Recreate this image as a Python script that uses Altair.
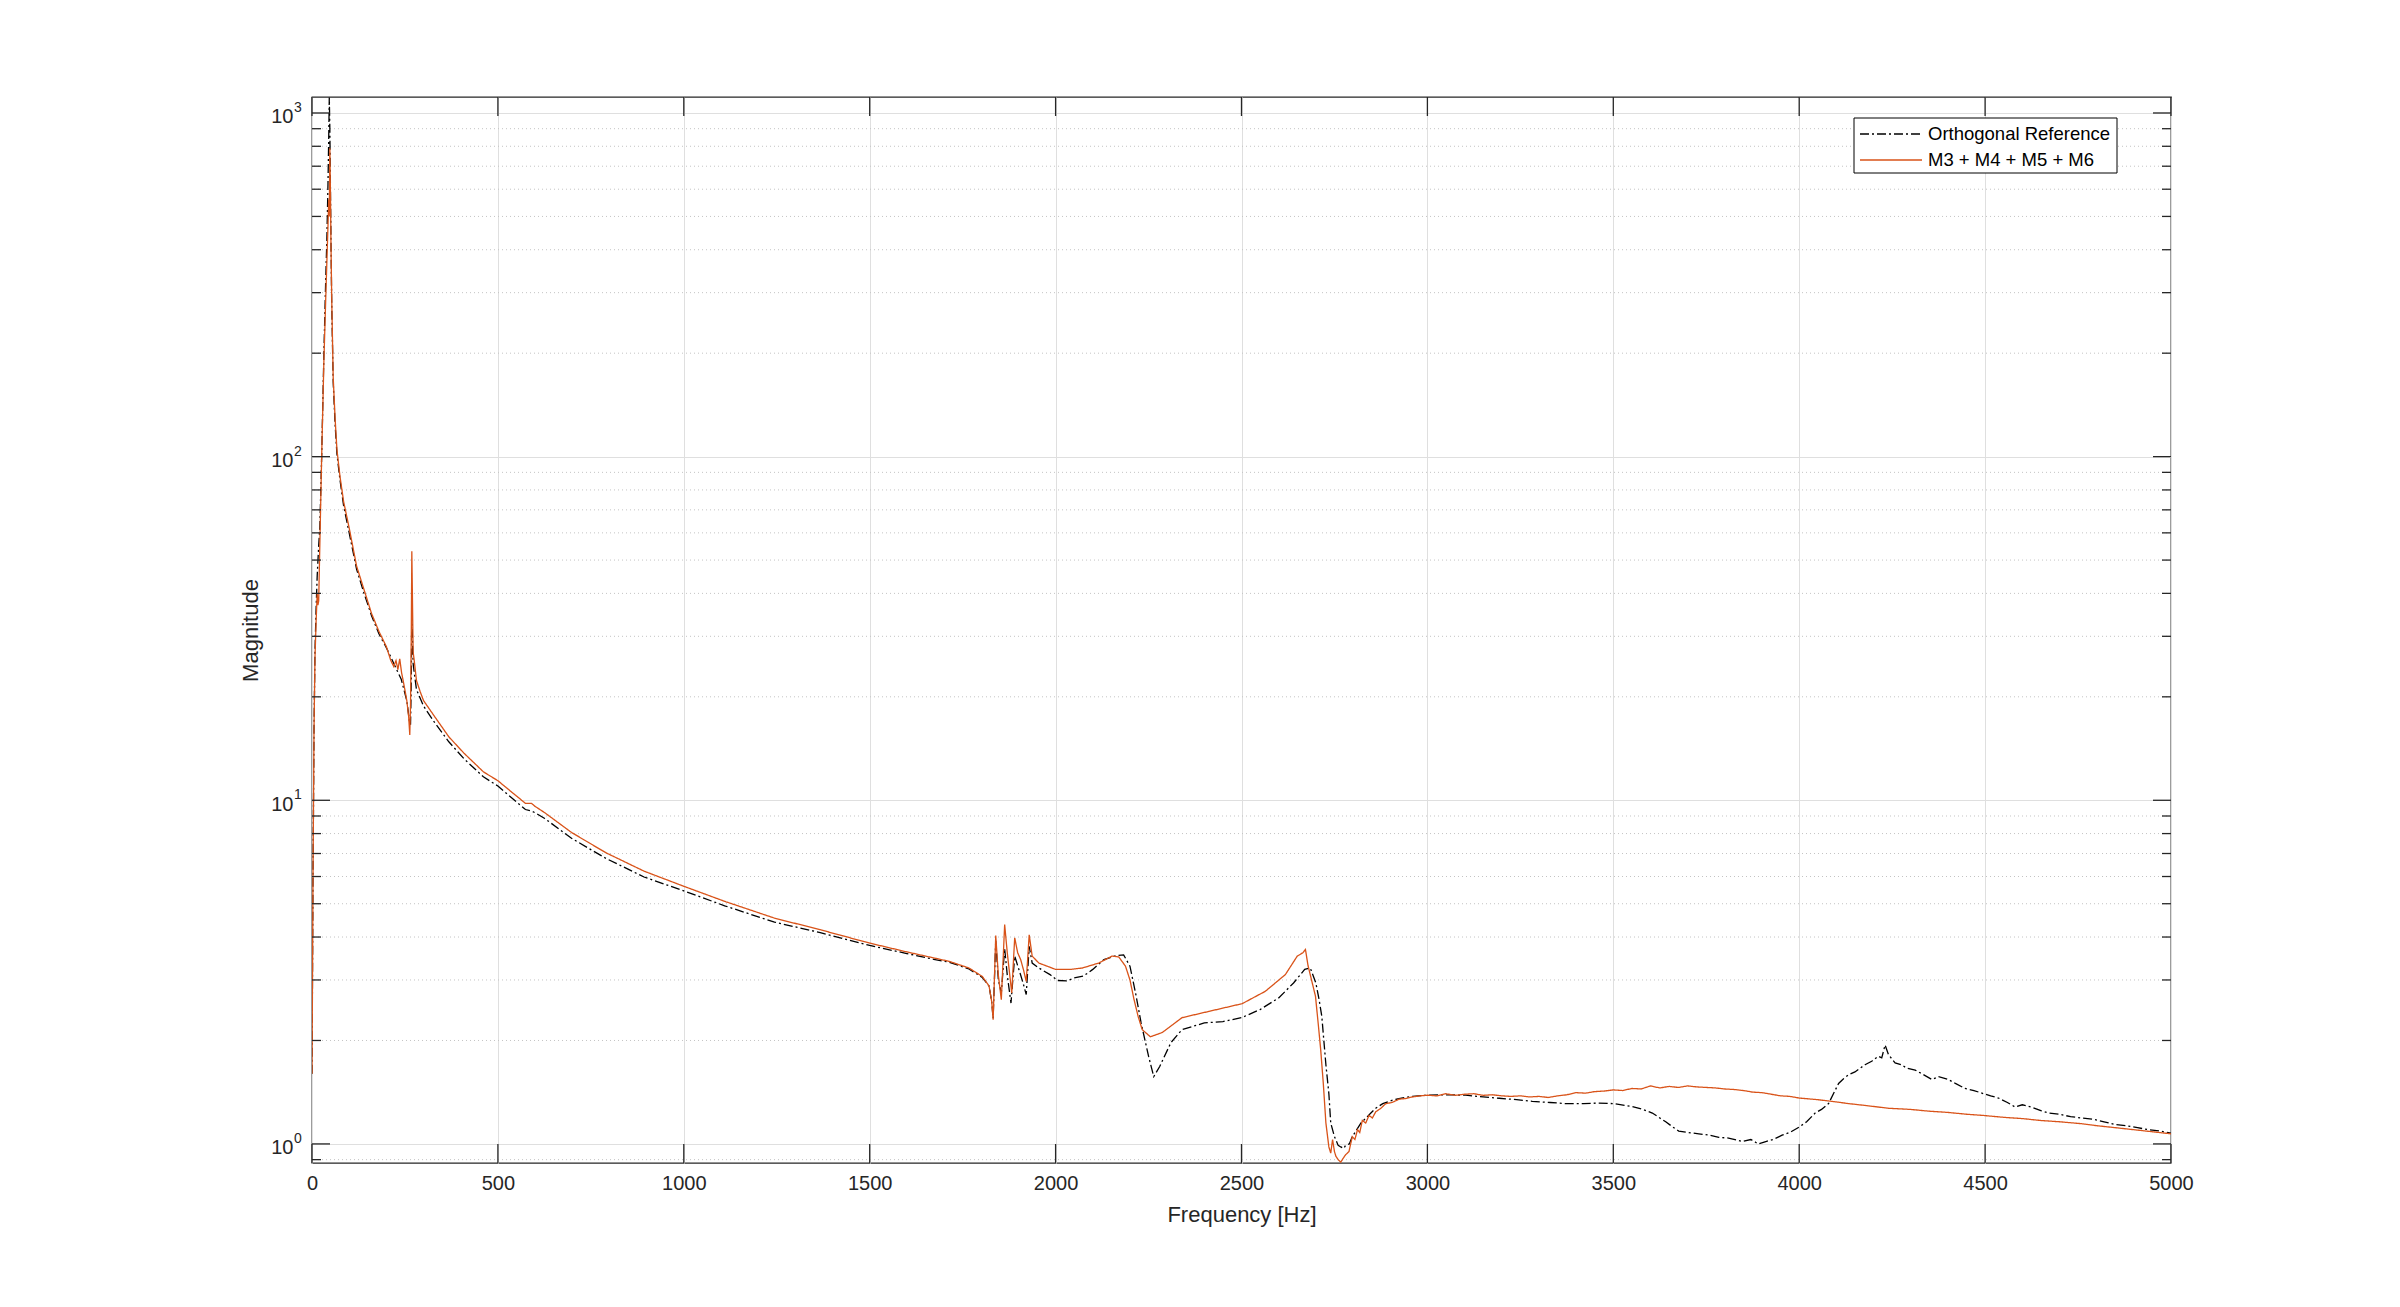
import altair as alt
import pandas as pd

# ---------------- data ----------------
ref_name = "Orthogonal Reference"
m_name = "M3 + M4 + M5 + M6"

ref_f = [0, 2.7, 5.4, 8, 11, 14, 18, 21, 26, 32, 37, 40, 43, 45, 46.5, 48, 49.5, 51, 53, 57, 62, 67, 75, 85,
         100, 120, 140, 160, 180, 200, 220, 240, 255, 262, 265, 267, 268.5, 270, 272, 275, 281, 291, 300, 327,
         368, 409, 461, 500, 540, 574, 590, 600, 626, 698, 790, 893, 1000, 1110, 1244, 1367, 1500, 1600, 1676,
         1713, 1767, 1803, 1821, 1828, 1832, 1839, 1846, 1854, 1863, 1870, 1880, 1890, 1898, 1906, 1914, 1921,
         1929, 1937, 1955, 1985, 2005, 2030, 2050, 2075, 2100, 2130, 2163, 2183, 2200, 2215, 2230, 2250, 2264,
         2280, 2310, 2340, 2400, 2450, 2500, 2550, 2600, 2640, 2670, 2685, 2700, 2709, 2716, 2727, 2735, 2740,
         2750, 2760, 2767, 2775, 2780, 2790, 2798, 2810, 2821, 2835, 2848, 2861, 2880, 2906, 2930, 2960, 3000,
         3050, 3103, 3150, 3193, 3240, 3282, 3330, 3372, 3420, 3460, 3500, 3551, 3580, 3605, 3625, 3641, 3660,
         3676, 3700, 3730, 3760, 3784, 3810, 3847, 3870, 3890, 3910, 3930, 3954, 3975, 4000, 4020, 4043, 4060,
         4079, 4095, 4106, 4120, 4133, 4150, 4177, 4195, 4213, 4222, 4231, 4240, 4258, 4275, 4290, 4312, 4330,
         4357, 4375, 4401, 4420, 4446, 4470, 4496, 4515, 4536, 4560, 4581, 4600, 4625, 4650, 4670, 4700, 4730,
         4760, 4790, 4820, 4849, 4880, 4910, 4940, 4970, 5000]
ref_v = [1.6, 6, 16, 27, 36, 45, 55, 62, 100, 200, 330, 430, 620, 850, 1110, 900, 620, 430, 280, 165, 125, 102,
         86, 72, 60, 47, 40, 34.5, 30.5, 27.8, 25, 22.5, 19.5, 17, 16.6, 22, 36, 30, 25, 23.5, 21, 19.8, 18.8, 17,
         14.8, 13.2, 11.7, 11.0, 10.1, 9.4, 9.3, 9.2, 8.85, 7.75, 6.78, 5.98, 5.45, 4.93, 4.42, 4.12, 3.78, 3.58,
         3.44, 3.38, 3.23, 3.05, 2.88, 2.6, 2.32, 3.9, 3.0, 2.75, 3.7, 3.1, 2.57, 3.52, 3.3, 3.1, 2.9, 2.72, 3.76,
         3.36, 3.25, 3.11, 2.99, 2.98, 3.04, 3.08, 3.22, 3.44, 3.53, 3.55, 3.29, 2.75, 2.25, 1.80, 1.57, 1.68,
         1.97, 2.15, 2.25, 2.27, 2.33, 2.46, 2.66, 2.94, 3.22, 3.25, 2.94, 2.62, 2.35, 1.7, 1.4, 1.15, 1.05, 0.99,
         0.98, 0.97, 0.99, 1.0, 1.05, 1.1, 1.15, 1.19, 1.23, 1.27, 1.31, 1.34, 1.36, 1.375, 1.386, 1.39, 1.386,
         1.37, 1.358, 1.345, 1.33, 1.32, 1.31, 1.31, 1.315, 1.31, 1.285, 1.26, 1.23, 1.19, 1.16, 1.12, 1.09, 1.08,
         1.07, 1.06, 1.045, 1.04, 1.016, 1.03, 1.0, 1.016, 1.03, 1.06, 1.08, 1.12, 1.16, 1.23, 1.26, 1.31, 1.42,
         1.50, 1.55, 1.59, 1.62, 1.70, 1.74, 1.80, 1.78, 1.94, 1.82, 1.72, 1.70, 1.66, 1.64, 1.60, 1.54, 1.57,
         1.54, 1.50, 1.45, 1.43, 1.40, 1.38, 1.36, 1.32, 1.28, 1.30, 1.28, 1.25, 1.23, 1.22, 1.20, 1.19, 1.18,
         1.16, 1.14, 1.13, 1.115, 1.10, 1.09, 1.075]

m_f = [0, 2.7, 5.4, 8, 11, 14, 16, 18, 21, 26, 32, 37, 40, 43, 45, 46.5, 48, 49.5, 51, 53, 57, 62, 67, 75, 85,
       100, 120, 140, 160, 180, 200, 212, 220, 226, 231, 236, 241, 248, 255, 260, 263, 265, 267, 268.5, 270, 272,
       275, 281, 291, 300, 327, 368, 409, 461, 500, 540, 574, 590, 600, 626, 698, 790, 893, 1000, 1110, 1244,
       1367, 1500, 1600, 1676, 1713, 1767, 1803, 1821, 1828, 1832, 1839, 1846, 1854, 1863, 1870, 1875, 1882,
       1890, 1898, 1906, 1914, 1921, 1929, 1937, 1955, 2000, 2040, 2072, 2116, 2152, 2170, 2188, 2200, 2211,
       2222, 2233, 2255, 2287, 2340, 2412, 2502, 2564, 2618, 2650, 2665, 2672, 2679, 2690, 2699, 2707, 2713,
       2720, 2727, 2735, 2740, 2745, 2750, 2754, 2760, 2767, 2774, 2780, 2789, 2798, 2805, 2812, 2818, 2825,
       2834, 2843, 2852, 2861, 2875, 2888, 2905, 2924, 2940, 2960, 2980, 3000, 3025, 3050, 3075, 3100, 3125,
       3150, 3175, 3200, 3225, 3250, 3275, 3300, 3325, 3350, 3375, 3400, 3425, 3450, 3475, 3500, 3525, 3550,
       3575, 3600, 3625, 3650, 3675, 3700, 3725, 3750, 3775, 3800, 3825, 3850, 3875, 3900, 3925, 3950, 3975,
       4000, 4050, 4100, 4133, 4175, 4240, 4300, 4350, 4400, 4450, 4496, 4550, 4600, 4650, 4700, 4760, 4800,
       4850, 4900, 4950, 5000]
m_v = [1.6, 6, 16, 26, 33, 40, 37, 38, 55, 100, 190, 290, 370, 470, 560, 500, 790, 600, 420, 290, 170, 130, 105,
       88, 74, 62, 48, 41, 35, 31, 28, 25.5, 24.5, 25.5, 24, 25.8, 23.5, 21.5, 19.5, 17.5, 15.5, 19, 30, 53, 40,
       27, 25.5, 22.3, 20.7, 19.5, 17.7, 15.3, 13.7, 12.1, 11.4, 10.5, 9.8, 9.8, 9.6, 9.2, 8.06, 7.04, 6.22, 5.62,
       5.08, 4.54, 4.2, 3.84, 3.62, 3.47, 3.40, 3.25, 3.07, 2.88, 2.6, 2.30, 4.04, 3.1, 2.63, 4.35, 3.6, 3.22,
       2.75, 3.98, 3.6, 3.44, 3.2, 2.97, 4.06, 3.52, 3.36, 3.22, 3.22, 3.25, 3.36, 3.52, 3.50, 3.29, 3.0, 2.63,
       2.35, 2.15, 2.05, 2.11, 2.33, 2.43, 2.56, 2.78, 3.11, 3.52, 3.6, 3.68, 3.3, 2.95, 2.69, 2.2, 1.88, 1.5,
       1.15, 0.98, 0.94, 1.03, 0.95, 0.92, 0.9, 0.885, 0.91, 0.93, 0.95, 1.05, 1.03, 1.10, 1.08, 1.17, 1.15, 1.21,
       1.19, 1.24, 1.27, 1.31, 1.32, 1.35, 1.355, 1.37, 1.38, 1.386, 1.38, 1.40, 1.385, 1.395, 1.40, 1.385, 1.39,
       1.38, 1.375, 1.38, 1.37, 1.375, 1.365, 1.38, 1.39, 1.41, 1.405, 1.42, 1.425, 1.436, 1.43, 1.45, 1.445,
       1.475, 1.455, 1.47, 1.46, 1.475, 1.465, 1.46, 1.455, 1.445, 1.44, 1.43, 1.415, 1.41, 1.395, 1.38, 1.375,
       1.36, 1.345, 1.325, 1.31, 1.295, 1.27, 1.26, 1.245, 1.235, 1.22, 1.21, 1.195, 1.185, 1.17, 1.16, 1.145,
       1.13, 1.115, 1.1, 1.085, 1.07]

x_ticks = [0, 500, 1000, 1500, 2000, 2500, 3000, 3500, 4000, 4500, 5000]
y_major = [1, 10, 100, 1000]
y_exponents = ["0", "1", "2", "3"]
y_minor = [0.9, 2, 3, 4, 5, 6, 7, 8, 9, 20, 30, 40, 50, 60, 70, 80, 90, 200, 300, 400, 500, 600, 700, 800, 900]

# ---------------- chart ----------------
W, H = 1859, 1066
FONT = "Liberation Sans"
TXT = "#262626"
ORANGE = "#D95319"
XT = "Frequency [Hz]"
YT = "Magnitude"

df = pd.concat([
    pd.DataFrame({"f": ref_f, "value": ref_v, "series": ref_name}),
    pd.DataFrame({"f": m_f, "value": m_v, "series": m_name}),
])

xscale = alt.Scale(domain=[0, 5000], nice=False, zero=False)
yscale = alt.Scale(type="log", domain=[0.88, 1113], nice=False)
cscale = alt.Scale(domain=[ref_name, m_name], range=["#000000", ORANGE])
dscale = alt.Scale(domain=[ref_name, m_name], range=[[9, 3, 2, 3], [1, 0]])

xaxis = alt.Axis(values=x_ticks, grid=True, gridColor="#dfdfdf", gridWidth=1, ticks=False, domain=False,
                 format="d", labelFlush=False, labelFontSize=20, labelFont=FONT, labelColor=TXT, labelPadding=10,
                 titleFontSize=22, titleFont=FONT, titleColor=TXT, titleFontWeight="normal", titlePadding=11)
yaxis = alt.Axis(values=y_major, grid=True, gridColor="#dfdfdf", gridWidth=1, ticks=False, domain=False,
                 labelExpr="'10'", labelFlush=False, labelFontSize=20, labelFont=FONT, labelColor=TXT,
                 labelPadding=19, labelBaseline="middle", labelOffset=4,
                 titleFontSize=22, titleFont=FONT, titleColor=TXT, titleFontWeight="normal", titlePadding=8)

def X(field):
    return alt.X(field, scale=xscale, axis=xaxis, title=XT)

def Y(field):
    return alt.Y(field, scale=yscale, axis=yaxis, title=YT)

minor_df = pd.DataFrame({"v": y_minor})
major_df = pd.DataFrame({"v": y_major, "e": y_exponents})
xt_df = pd.DataFrame({"t": x_ticks})

minor_grid = alt.Chart(minor_df).mark_rule(color="#c4c4c4", strokeWidth=1, strokeDash=[1, 3]).encode(
    y=Y("v:Q"))

base = alt.Chart(df)
ref_line = base.transform_filter(alt.datum.series == ref_name).mark_line(
    strokeWidth=1.3, clip=True, strokeCap="butt").encode(
    x=X("f:Q"), y=Y("value:Q"),
    color=alt.Color("series:N", scale=cscale, legend=None),
    strokeDash=alt.StrokeDash("series:N", scale=dscale, legend=None), order="f:Q")
m_line = base.transform_filter(alt.datum.series == m_name).mark_line(
    strokeWidth=1.3, clip=True, strokeCap="butt").encode(
    x=X("f:Q"), y=Y("value:Q"),
    color=alt.Color("series:N", scale=cscale, legend=None),
    strokeDash=alt.StrokeDash("series:N", scale=dscale, legend=None), order="f:Q")

# exponents of the 10^n tick labels
exps = alt.Chart(major_df).mark_text(
    align="left", baseline="middle", fontSize=14, font=FONT, color=TXT, dy=-5, clip=False).encode(
    y=Y("v:Q"), x=alt.value(-18), text="e:N")

TK = dict(color=TXT, strokeWidth=1.3)
ymaj_l = alt.Chart(major_df).mark_rule(**TK).encode(y=Y("v:Q"), x=alt.value(0), x2=alt.value(18))
ymaj_r = alt.Chart(major_df).mark_rule(**TK).encode(y=Y("v:Q"), x=alt.value(W - 18), x2=alt.value(W))
ymin_l = alt.Chart(minor_df).mark_rule(**TK).encode(y=Y("v:Q"), x=alt.value(0), x2=alt.value(9))
ymin_r = alt.Chart(minor_df).mark_rule(**TK).encode(y=Y("v:Q"), x=alt.value(W - 9), x2=alt.value(W))
xt_b = alt.Chart(xt_df).mark_rule(**TK).encode(x=X("t:Q"), y=alt.value(H - 19), y2=alt.value(H))
xt_t = alt.Chart(xt_df).mark_rule(**TK).encode(x=X("t:Q"), y=alt.value(0), y2=alt.value(19))

# ---- legend box (drawn as marks so the rows sit as tight as in the reference) ----
LX0, LX1, LY0, LY1 = 1542, 1805, 21, 76
leg_box = alt.Chart(pd.DataFrame({"a": [0]})).mark_rect(
    fill="white", stroke="black", strokeWidth=1).encode(
    x=alt.value(LX0), x2=alt.value(LX1), y=alt.value(LY0), y2=alt.value(LY1))
leg_parts = []
for name, ypix in [(ref_name, 37), (m_name, 63)]:
    d = pd.DataFrame({"series": [name]})
    leg_parts.append(alt.Chart(d).mark_rule(strokeWidth=1.3, strokeCap="butt").encode(
        x=alt.value(LX0 + 6), x2=alt.value(LX0 + 68), y=alt.value(ypix),
        color=alt.Color("series:N", scale=cscale, legend=None),
        strokeDash=alt.StrokeDash("series:N", scale=dscale, legend=None)))
    leg_parts.append(alt.Chart(d).mark_text(
        align="left", baseline="middle", fontSize=18.5, font=FONT, color="black").encode(
        x=alt.value(LX0 + 74), y=alt.value(ypix), text="series:N"))

chart = alt.layer(minor_grid, ref_line, m_line, exps, ymaj_l, ymaj_r, ymin_l, ymin_r, xt_b, xt_t,
                  leg_box, *leg_parts).properties(
    width=W, height=H,
    padding={"left": 304, "top": 89, "right": 221, "bottom": 130},
    autosize=alt.AutoSizeParams(type="none"),
    background="white",
).configure_view(stroke=TXT, strokeWidth=1.3)

chart.save("out.html", embed_options={"renderer": "svg", "actions": False})
